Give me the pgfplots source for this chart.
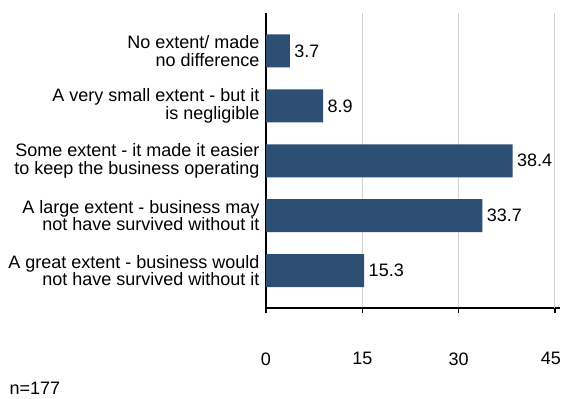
\documentclass[border=0pt]{standalone}
\usepackage{pgfplots}
\pgfplotsset{compat=1.18}
\usepackage{fontspec}
\setmainfont{Liberation Sans}
\definecolor{barblue}{HTML}{2D4F74}
\newcommand\f{\fontsize{18bp}{17.7bp}\selectfont}
\begin{document}
\begin{tikzpicture}[x=1bp,y=1bp]
\useasboundingbox (0,0) rectangle (563,398);
\begin{axis}[
  at={(266bp,90bp)}, anchor=south west,
  scale only axis, width=294bp, height=295bp,
  xmin=0, xmax=45.8, ymin=-0.68, ymax=4.69,
  xbar, bar width=33bp,
  axis lines=left, axis line style={-, line width=1.3bp},
  xtick={0,15,30}, tick align=outside, major tick length=5bp,
  extra x ticks={45},
  extra x tick style={xticklabel style={xshift=-4bp}},
  xtick style={line width=1.3bp, black},
  xmajorgrids, grid style={draw=black!18, line width=1bp},
  /pgf/number format/assume math mode=true,
  xticklabel style={font=\f, yshift=-36bp},
  ytick={0,1,2,3,4},
  ytick style={draw=none},
  yticklabels={{A great extent - business would\\not have survived without it},
               {A large extent - business may\\not have survived without it},
               {Some extent - it made it easier\\to keep the business operating},
               {A very small extent - but it\\is negligible},
               {No extent/ made\\no difference}},
  yticklabel style={font=\f, align=right, xshift=2bp},
  nodes near coords, nodes near coords align=horizontal,
  every node near coord/.append style={font=\f, black, xshift=1bp,
     /pgf/number format/fixed, /pgf/number format/fixed zerofill, /pgf/number format/precision=1},
]
\addplot[fill=barblue, draw=none] coordinates {(15.3,0) (33.7,1) (38.4,2) (8.9,3) (3.7,4)};
\node[font=\f] at (rel axis cs:0.5,0) [yshift=-75bp] {\%};
\end{axis}
\node[font=\f, anchor=base west] at (6,4) {n=177};
\end{tikzpicture}
\end{document}
